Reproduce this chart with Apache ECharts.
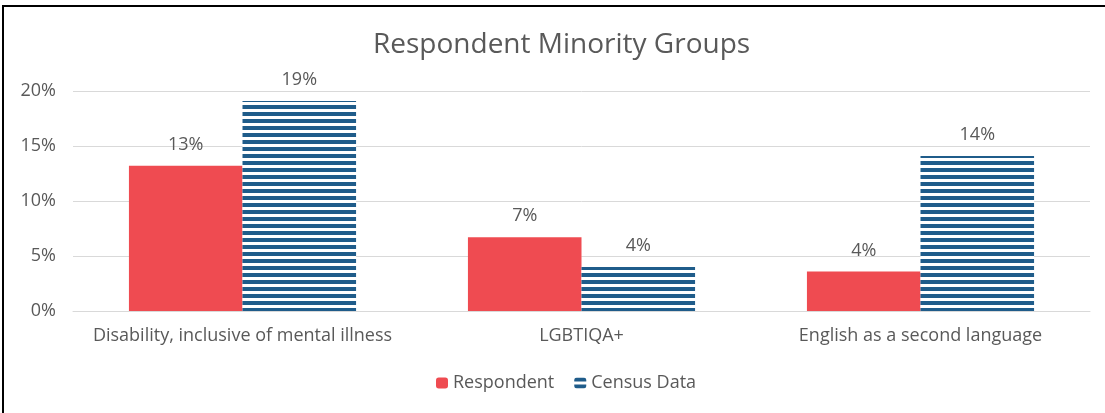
<!DOCTYPE html>
<html>
<head>
<meta charset="utf-8">
<script src="https://cdn.jsdelivr.net/npm/echarts@6/dist/echarts.min.js"></script>
<style>
    html, body { margin: 0; padding: 0; background: #fff; }
    #frame {
        position: absolute; left: 2px; top: 5px;
        width: 1103px; height: 408px;
        border-top: 2px solid #000; border-left: 2px solid #000;
        box-sizing: border-box;
    }
    #chart { width: 1101px; height: 406px; }
</style>
</head>
<body>
<div id="frame"><div id="chart"></div></div>
<script>
var categories = ['Disability, inclusive of mental illness', 'LGBTIQA+', 'English as a second language'];
var respondent = [13.2, 6.7, 3.6];
var census = [19.1, 4.0, 14.1];
var yTicks = [0, 5, 10, 15, 20];

var font = 'Open Sans';
var txt = '#595959';

// horizontal stripes for the census series
var stripe = document.createElement('canvas');
stripe.width = 8;
stripe.height = 7;
var sc = stripe.getContext('2d');
sc.fillStyle = '#ffffff';
sc.fillRect(0, 0, 8, 7);
sc.fillStyle = '#1F5C8A';
sc.fillRect(0, 0, 8, 4);

function pct(p) {
    return Math.round(p.value) + '%';
}

var myChart = echarts.init(document.getElementById('chart'));
myChart.setOption({
    animation: false,
    title: {
        text: 'Respondent Minority Groups',
        left: 364,
        top: 19,
        textStyle: { color: txt, fontFamily: font, fontSize: 28, fontWeight: 'normal' }
    },
    legend: {
        bottom: 16,
        left: 427,
        itemWidth: 12,
        itemHeight: 11,
        itemGap: 20,
        textStyle: { color: txt, fontFamily: font, fontSize: 18 },
        data: ['Respondent', 'Census Data']
    },
    grid: { left: 69, right: 15, top: 84, bottom: 102 },
    xAxis: {
        type: 'category',
        data: categories,
        axisTick: { show: false },
        axisLine: { lineStyle: { color: '#d9d9d9', width: 1 } },
        axisLabel: { color: txt, fontFamily: font, fontSize: 18, margin: 16, interval: 0 }
    },
    yAxis: {
        type: 'value',
        min: yTicks[0],
        max: yTicks[yTicks.length - 1],
        interval: 5,
        axisLine: { show: false },
        axisTick: { show: false },
        splitLine: { lineStyle: { color: '#d9d9d9', width: 1 } },
        axisLabel: {
            color: txt, fontFamily: font, fontSize: 18, margin: 17,
            formatter: function (v) { return v + '%'; }
        }
    },
    series: [{
        name: 'Respondent',
        type: 'bar',
        barGap: '0%',
        barCategoryGap: '33%',
        itemStyle: { color: '#EF4B51' },
        label: {
            show: true, position: 'top', distance: 12,
            color: txt, fontFamily: font, fontSize: 18,
            formatter: pct
        },
        data: respondent
    }, {
        name: 'Census Data',
        type: 'bar',
        itemStyle: { color: { image: stripe, repeat: 'repeat' } },
        label: {
            show: true, position: 'top', distance: 12,
            color: txt, fontFamily: font, fontSize: 18,
            formatter: pct
        },
        data: census
    }]
});
</script>
</body>
</html>
